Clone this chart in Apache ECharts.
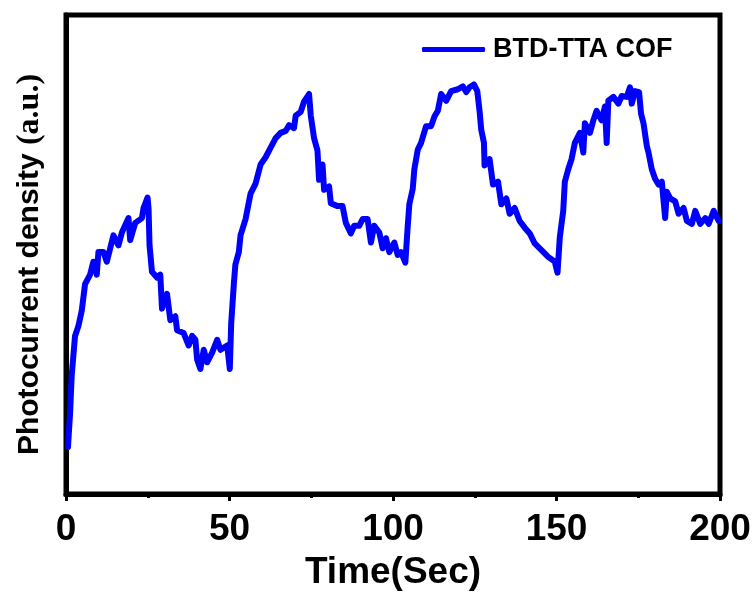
<!DOCTYPE html>
<html>
<head>
<meta charset="utf-8">
<script src="https://cdn.jsdelivr.net/npm/echarts@6/dist/echarts.min.js"></script>
<style>
  html, body { margin: 0; padding: 0; background: #fff; }
  #chart { width: 754px; height: 596px; }
</style>
</head>
<body>
<div id="chart"></div>
<script>
// Photocurrent response of BTD-TTA COF under chopped illumination
const seriesName = 'BTD-TTA COF';

// time in seconds
const timeSec = [
  0.6, 1.23, 1.75, 2.76, 3.77, 4.82, 5.83, 7.36, 8.37, 9.42, 9.91, 11.44, 12.48,
  14.51, 16.04, 17.09, 19.11, 19.63, 21.17, 23.22, 23.71, 24.94, 25.25, 25.55,
  26.29, 27.82, 28.83, 29.36, 30.89, 31.9, 33.44, 33.96, 35.98, 37.52, 38.56,
  39.57, 40.09, 41.1, 42.12, 43.16, 44.69, 46.23, 47.24, 49.29, 50.09, 50.52,
  51.32, 51.8, 52.85, 53.37, 54.91, 56.44, 57.98, 59.51, 61.04, 62.58, 64.11,
  65.64, 67.18, 68.19, 69.72, 70.25, 71.78, 72.79, 74.33, 74.85, 75.86, 76.9,
  77.39, 78.44, 78.93, 80.46, 80.98, 83.04, 84.57, 85.58, 87.12, 88.13, 89.66,
  90.71, 92.24, 93.25, 94.26, 95.8, 96.84, 97.85, 98.87, 100.4, 101.44, 102.45,
  103.77, 104.51, 105.0, 106.04, 106.53, 107.58, 108.59, 110.12, 111.66, 112.67,
  113.71, 114.72, 116.26, 117.79, 119.85, 121.38, 122.39, 123.4, 124.75, 125.77,
  126.47, 126.99, 127.82, 128.0, 129.54, 130.58, 132.12, 133.13, 134.66, 135.68,
  137.21, 138.74, 140.28, 141.81, 143.34, 145.4, 147.45, 149.48, 150.31, 151.01,
  152.06, 152.55, 153.59, 154.6, 155.61, 157.15, 158.19, 158.68, 160.21, 161.26,
  162.27, 163.8, 164.82, 165.34, 165.86, 167.39, 168.93, 169.94, 171.47, 172.48,
  173.01, 174.02, 175.25, 175.86, 176.6, 177.61, 178.13, 179.14, 180.15, 181.2,
  182.21, 183.22, 183.74, 184.76, 186.29, 187.33, 188.87, 189.88, 191.41, 192.42,
  193.96, 195.49, 196.53, 198.07, 199.6
];

// photocurrent density, arbitrary units
const photocurrent = [
  9.8, 16.7, 24.8, 33.0, 35.0, 38.3, 43.8, 45.8, 48.5, 45.8, 50.5, 50.5, 48.5,
  54.0, 51.9, 54.6, 57.6, 53.0, 56.6, 57.6, 59.7, 61.9, 59.5, 51.9,
  46.4, 45.2, 45.8, 38.7, 41.8, 36.3, 37.1, 34.2, 33.6, 31.0, 33.0,
  32.2, 28.1, 26.1, 30.1, 27.5, 29.5, 32.2, 30.1, 31.0, 26.1, 35.6,
  43.8, 47.9, 50.5, 54.0, 57.4, 62.7, 64.8, 68.8, 70.3, 72.3, 74.3,
  75.4, 75.8, 77.0, 76.4, 79.0, 79.8, 81.9, 83.5, 79.0, 74.3, 71.7,
  65.6, 68.8, 63.5, 64.2, 60.7, 60.1, 60.1, 56.6, 54.4, 56.0, 56.0,
  57.4, 57.4, 52.5, 56.0, 54.6, 51.3, 53.4, 50.5, 52.5, 49.9, 50.5,
  48.3, 56.0, 60.5, 63.7, 67.8, 71.9, 73.3, 76.8, 76.8, 78.8,
  80.0, 83.5, 82.1, 84.1, 84.5, 85.1, 83.9, 84.9, 85.5, 84.1,
  80.0, 76.0, 73.3, 68.6, 69.9, 64.6, 65.2, 60.5, 61.7, 58.5,
  59.7, 57.0, 55.6, 54.4, 52.3, 50.9, 49.5, 48.5, 46.2, 53.6,
  59.1, 65.2, 67.8, 69.9, 73.3, 75.4, 71.3, 77.4, 75.4, 78.0,
  80.0, 78.0, 80.9, 73.3, 82.1, 82.9, 81.5, 83.1, 82.9, 84.9,
  81.5, 84.1, 83.9, 79.4, 77.4, 72.7, 71.3, 67.8, 65.8, 64.6,
  65.2, 57.6, 63.1, 61.7, 61.1, 58.5, 59.7, 57.0, 56.4, 59.1,
  56.4, 57.6, 56.4, 59.1, 57.0
];

const xTicks = [0, 50, 100, 150, 200];

const points = timeSec.map((t, i) => [t, photocurrent[i]]);

const chart = echarts.init(document.getElementById('chart'), null, { renderer: 'canvas' });

chart.setOption({
  backgroundColor: '#ffffff',
  animation: false,
  grid: {
    left: 66, right: 34, top: 15, bottom: 90,
    show: true,
    borderColor: '#000000',
    borderWidth: 5,
    backgroundColor: 'transparent'
  },
  legend: {
    data: [{ name: seriesName, icon: 'roundRect' }],
    left: 417,
    top: 31,
    itemWidth: 63,
    itemHeight: 5,
    itemStyle: { color: '#0000ff' },
    textStyle: {
      fontFamily: 'Liberation Sans, Arial, sans-serif',
      fontWeight: 'bold',
      fontSize: 27,
      color: '#000000',
      padding: [0, 0, 0, 3]
    }
  },
  xAxis: {
    type: 'value',
    min: 0,
    max: 200,
    interval: 50,
    name: 'Time(Sec)',
    nameLocation: 'middle',
    nameGap: 60,
    nameTextStyle: {
      fontFamily: 'Liberation Sans, Arial, sans-serif',
      fontWeight: 'bold',
      fontSize: 37,
      color: '#000000'
    },
    axisLine: { show: true, lineStyle: { color: '#000000', width: 5 } },
    axisTick: { show: true, inside: false, length: 7, lineStyle: { color: '#000000', width: 3 } },
    minorTick: { show: true, splitNumber: 2, length: 4, lineStyle: { color: '#000000', width: 3 } },
    splitLine: { show: false },
    axisLabel: {
      margin: 17,
      fontFamily: 'Liberation Sans, Arial, sans-serif',
      fontWeight: 'bold',
      fontSize: 37,
      color: '#000000',
      formatter: v => (xTicks.includes(v) ? String(v) : '')
    }
  },
  yAxis: {
    type: 'value',
    min: 0,
    max: 100,
    name: '{a|Photocurrent density }{b|(a.u.)}',
    nameLocation: 'middle',
    nameRotate: 90,
    nameGap: 20,
    nameTextStyle: {
      padding: [0, 20, 0, 0],
      rich: {
        a: {
          fontFamily: 'Liberation Sans, Arial, sans-serif',
          fontWeight: 'bold',
          fontSize: 30,
          color: '#000000'
        },
        b: {
          fontFamily: 'Liberation Serif, Times New Roman, serif',
          fontWeight: 'bold',
          fontSize: 32,
          color: '#000000'
        }
      }
    },
    axisLine: { show: true, lineStyle: { color: '#000000', width: 5 } },
    axisTick: { show: false },
    axisLabel: { show: false },
    splitLine: { show: false }
  },
  series: [{
    name: seriesName,
    type: 'line',
    data: points,
    showSymbol: false,
    symbol: 'none',
    clip: true,
    lineStyle: { color: '#0000ff', width: 6, join: 'round', cap: 'round' },
    itemStyle: { color: '#0000ff' }
  }]
});
</script>
</body>
</html>
